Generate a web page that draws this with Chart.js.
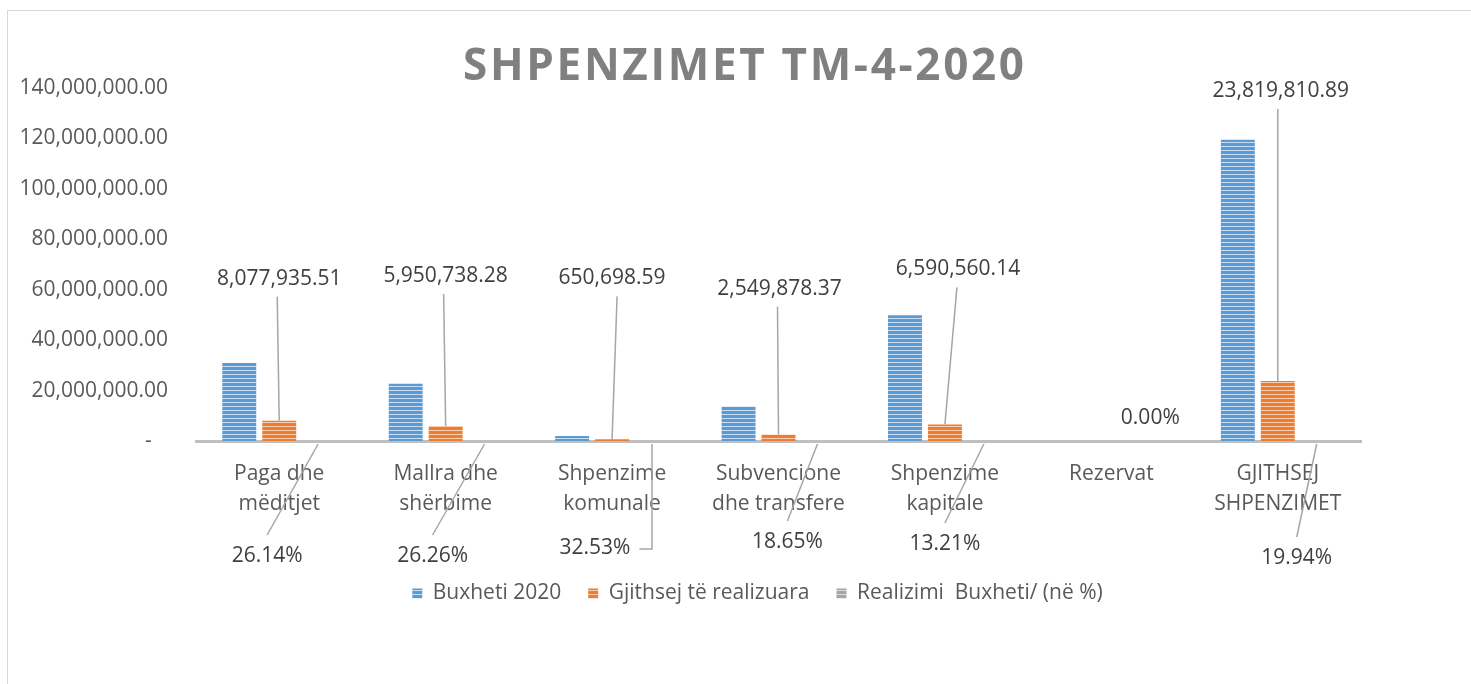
<!DOCTYPE html>
<html>
<head>
<meta charset="utf-8">
<script src="https://cdn.jsdelivr.net/npm/chart.js@4.4.0/dist/chart.umd.min.js"></script>
<style>
  body { margin: 0; background: #fff; }
  #frame { position: absolute; left: 7px; top: 10px; width: 1500px; height: 700px; border: 1px solid #D9D9D9; }
  #chart { position: absolute; left: 0; top: 0; }
</style>
</head>
<body>
<div id="frame"></div>
<canvas id="chart" width="1471" height="684"></canvas>
<script>
// chart data
const categories = [
  ['Paga dhe', 'mëditjet'],
  ['Mallra dhe', 'shërbime'],
  ['Shpenzime', 'komunale'],
  ['Subvencione', 'dhe transfere'],
  ['Shpenzime', 'kapitale'],
  'Rezervat',
  ['GJITHSEJ', 'SHPENZIMET']
];
const budget2020 = [30900000, 22660000, 2000000, 13670000, 49890000, 0, 119460000];
const realized = [8077935.51, 5950738.28, 650698.59, 2549878.37, 6590560.14, 0, 23819810.89];
const realizedPct = [26.14, 26.26, 32.53, 18.65, 13.21, 0.00, 19.94];
const seriesNames = ['Buxheti 2020', 'Gjithsej të realizuara', 'Realizimi  Buxheti/ (në %)'];
const yTicks = [0, 20000000, 40000000, 60000000, 80000000, 100000000, 120000000, 140000000];
const chartTitle = 'SHPENZIMET TM-4-2020';

// where the data labels sit (offsets in px from their bar), like Excel placed them
const valueLabelLayout = [
  { dx: 0, dy: 142, lx: -2 },
  { dx: 0, dy: 150, lx: -2 },
  { dx: 0, dy: 161, lx: 5 },
  { dx: 1, dy: 146, lx: -2 },
  { dx: 13, dy: 155, lx: -1 },
  null,
  { dx: 3, dy: 290, lx: -3 }
];
const pctLabelLayout = [
  { dx: -52, dy: 115, leader: 'line' },
  { dx: -53, dy: 115, leader: 'line' },
  { dx: -57, dy: 107, leader: 'elbow' },
  { dx: -31, dy: 101, leader: 'line' },
  { dx: -40, dy: 103, leader: 'line' },
  { dx: -1, dy: -23, leader: 'none' },
  { dx: -21, dy: 117, leader: 'line' }
];

const FONT = '"Open Sans", sans-serif';

// horizontal stripe fill like the Excel pattern
function stripes(dark, light) {
  const c = document.createElement('canvas');
  c.width = 4; c.height = 4;
  const x = c.getContext('2d');
  x.fillStyle = dark; x.fillRect(0, 0, 4, 4);
  x.fillStyle = light; x.fillRect(0, 2, 4, 1);
  return x.createPattern(c, 'repeat');
}

const fmt2 = v => v.toLocaleString('en-US', { minimumFractionDigits: 2, maximumFractionDigits: 2 });

const labelPlugin = {
  id: 'labels',
  afterLayout(chart) {
    // Excel's legend sits a bit right of the canvas middle
    chart.legend.left += 77;
    chart.legend.right += 77;
  },
  afterDatasetsDraw(chart) {
    const ctx = chart.ctx;
    const orange = chart.getDatasetMeta(1).data;
    const gray = chart.getDatasetMeta(2).data;
    ctx.save();
    ctx.font = '21px ' + FONT;
    ctx.textAlign = 'center';
    ctx.textBaseline = 'middle';
    ctx.strokeStyle = '#A6A6A6';
    ctx.lineWidth = 1.5;

    // value labels of realized series
    realized.forEach((v, i) => {
      const lay = valueLabelLayout[i];
      if (!lay) return;
      const bar = orange[i];
      const lx = bar.x + lay.dx, ly = bar.y - lay.dy;
      ctx.beginPath();
      ctx.moveTo(lx + lay.lx, ly + 18);
      ctx.lineTo(bar.x, bar.y);
      ctx.stroke();
      ctx.fillStyle = '#404040';
      ctx.fillText(fmt2(v), lx, ly);
    });

    // percentage labels
    realizedPct.forEach((p, i) => {
      const lay = pctLabelLayout[i];
      const bar = gray[i];
      const lx = bar.x + lay.dx, ly = bar.y + lay.dy;
      const txt = p.toFixed(2) + '%';
      ctx.beginPath();
      if (lay.leader === 'line') {
        ctx.moveTo(bar.x - 1, bar.y + 3);
        ctx.lineTo(lx, ly - 21);
      } else if (lay.leader === 'elbow') {
        const w = ctx.measureText(txt).width;
        ctx.moveTo(bar.x, bar.y + 3);
        ctx.lineTo(bar.x, ly + 1);
        ctx.lineTo(lx + w / 2 + 9, ly + 1);
      }
      ctx.stroke();
      ctx.fillStyle = '#404040';
      ctx.fillText(txt, lx, ly);
    });
    ctx.restore();
  },
  afterDraw(chart) {
    // spaced bold title
    const ctx = chart.ctx;
    ctx.save();
    ctx.font = 'bold 44px ' + FONT;
    ctx.fillStyle = '#808080';
    ctx.textBaseline = 'alphabetic';
    const chars = [...chartTitle];
    const plain = ctx.measureText(chartTitle).width;
    const gap = (561 - plain) / (chars.length - 1);
    let x = 463;
    chars.forEach(ch => {
      ctx.fillText(ch, x, 80);
      x += ctx.measureText(ch).width + gap;
    });
    ctx.restore();
  }
};

new Chart(document.getElementById('chart'), {
  type: 'bar',
  data: {
    labels: categories,
    datasets: [
      { label: seriesNames[0], data: budget2020, backgroundColor: stripes('#5B9BD5', '#C9DEF2'), borderWidth: 0 },
      { label: seriesNames[1], data: realized, backgroundColor: stripes('#ED7D31', '#F8CDB0'), borderWidth: 0 },
      { label: seriesNames[2], data: realizedPct.map(p => p / 100), backgroundColor: stripes('#A5A5A5', '#DBDBDB'), borderWidth: 0 }
    ]
  },
  options: {
    responsive: false,
    animation: false,
    devicePixelRatio: 1,
    categoryPercentage: 0.72,
    barPercentage: 0.85,
    layout: { padding: { top: 88, right: 110, bottom: 70, left: 0 } },
    plugins: {
      tooltip: { enabled: false },
      title: { display: false },
      legend: {
        position: 'bottom',
        labels: {
          font: { family: FONT, size: 21 },
          color: '#595959',
          boxWidth: 10,
          boxHeight: 10,
          padding: 27
        }
      }
    },
    scales: {
      x: {
        grid: { display: false, drawTicks: false },
        border: { display: true, color: '#BFBFBF', width: 3 },
        ticks: {
          font: { family: FONT, size: 21, lineHeight: 1.42 },
          color: '#595959',
          padding: 18,
          maxRotation: 0,
          autoSkip: false
        },
        afterFit: s => { s.height = 115; }
      },
      y: {
        min: 0,
        max: 140000000,
        grid: { display: false, drawTicks: false },
        border: { display: false },
        afterBuildTicks: s => { s.ticks = yTicks.map(v => ({ value: v })); },
        ticks: {
          font: { family: FONT, size: 21 },
          color: '#595959',
          padding: 28,
          callback: v => v === 0 ? '-   ' : fmt2(v)
        },
        afterFit: s => { s.width = 196; }
      }
    }
  },
  plugins: [labelPlugin]
});
</script>
</body>
</html>
